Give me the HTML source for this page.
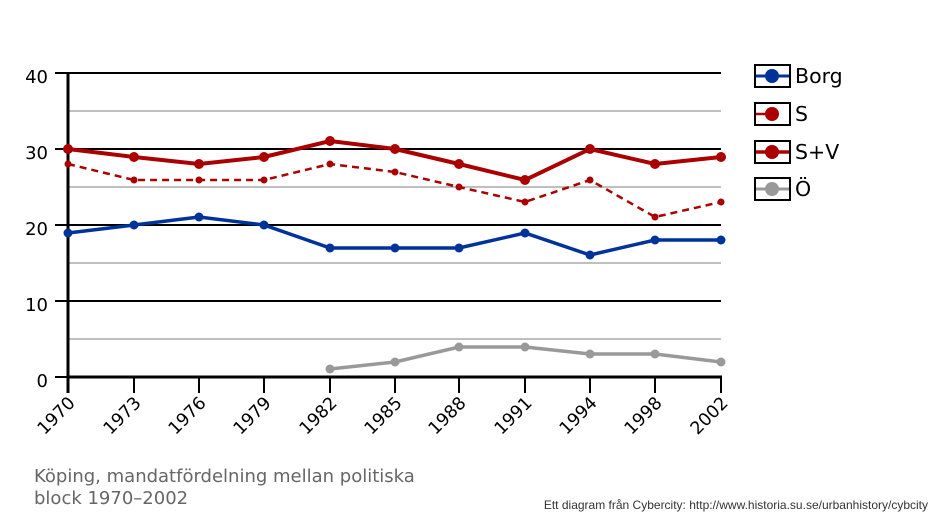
<!DOCTYPE html>
<html><head><meta charset="utf-8"><style>body{margin:0;background:#fff}svg{display:block}</style></head><body>
<svg width="938" height="521" xmlns="http://www.w3.org/2000/svg" font-family="DejaVu Sans, sans-serif">
<rect width="938" height="521" fill="#fff"/>
<g stroke="#999" stroke-width="1.2">
<line x1="68" x2="721" y1="339" y2="339"/><line x1="68" x2="721" y1="263" y2="263"/><line x1="68" x2="721" y1="187" y2="187"/><line x1="68" x2="721" y1="111" y2="111"/>
</g>
<g stroke="#000" stroke-width="2">
<line x1="55" x2="721" y1="301" y2="301"/><line x1="55" x2="721" y1="225" y2="225"/><line x1="55" x2="721" y1="149" y2="149"/><line x1="55" x2="721" y1="73" y2="73"/>
<line x1="55" x2="68" y1="377" y2="377"/>
</g>
<line x1="68" x2="722" y1="377" y2="377" stroke="#000" stroke-width="3"/>
<line x1="68" x2="68" y1="72" y2="393" stroke="#000" stroke-width="3"/>
<g stroke="#000" stroke-width="2">
<line x1="134" x2="134" y1="377" y2="393"/><line x1="199" x2="199" y1="377" y2="393"/><line x1="264" x2="264" y1="377" y2="393"/><line x1="330" x2="330" y1="377" y2="393"/><line x1="395" x2="395" y1="377" y2="393"/><line x1="459" x2="459" y1="377" y2="393"/><line x1="525" x2="525" y1="377" y2="393"/><line x1="590" x2="590" y1="377" y2="393"/><line x1="655" x2="655" y1="377" y2="393"/><line x1="721" x2="721" y1="377" y2="393"/>
</g>
<g font-size="18" text-anchor="end" fill="#000">
<text x="48" y="83">40</text><text x="48" y="159">30</text><text x="48" y="235">20</text><text x="48" y="311">10</text><text x="48" y="387">0</text>
</g>
<g font-size="17.5" text-anchor="end" fill="#000">
<text transform="translate(76,404) rotate(-45)">1970</text>
<text transform="translate(142,404) rotate(-45)">1973</text>
<text transform="translate(207,404) rotate(-45)">1976</text>
<text transform="translate(272,404) rotate(-45)">1979</text>
<text transform="translate(338,404) rotate(-45)">1982</text>
<text transform="translate(403,404) rotate(-45)">1985</text>
<text transform="translate(467,404) rotate(-45)">1988</text>
<text transform="translate(533,404) rotate(-45)">1991</text>
<text transform="translate(598,404) rotate(-45)">1994</text>
<text transform="translate(663,404) rotate(-45)">1998</text>
<text transform="translate(729,404) rotate(-45)">2002</text>
</g>
<!-- Ö -->
<polyline fill="none" stroke="#999" stroke-width="3.5" points="330,369 395,362 459,347 525,347 590,354 655,354 721,362"/>
<g fill="#999"><circle cx="330" cy="369" r="4.5"/><circle cx="395" cy="362" r="4.5"/><circle cx="459" cy="347" r="4.5"/><circle cx="525" cy="347" r="4.5"/><circle cx="590" cy="354" r="4.5"/><circle cx="655" cy="354" r="4.5"/><circle cx="721" cy="362" r="4.5"/></g>
<!-- Borg -->
<polyline fill="none" stroke="#003399" stroke-width="3.5" points="68,233 134,225 199,217 264,225 330,248 395,248 459,248 525,233 590,255 655,240 721,240"/>
<g fill="#003399"><circle cx="68" cy="233" r="4.5"/><circle cx="134" cy="225" r="4.5"/><circle cx="199" cy="217" r="4.5"/><circle cx="264" cy="225" r="4.5"/><circle cx="330" cy="248" r="4.5"/><circle cx="395" cy="248" r="4.5"/><circle cx="459" cy="248" r="4.5"/><circle cx="525" cy="233" r="4.5"/><circle cx="590" cy="255" r="4.5"/><circle cx="655" cy="240" r="4.5"/><circle cx="721" cy="240" r="4.5"/></g>
<!-- S dashed -->
<polyline fill="none" stroke="#aa0000" stroke-width="2.5" stroke-dasharray="7,5" points="68,164 134,180 199,180 264,180 330,164 395,172 459,187 525,202 590,180 655,217 721,202"/>
<g fill="#aa0000"><circle cx="68" cy="164" r="3.5"/><circle cx="134" cy="180" r="3.5"/><circle cx="199" cy="180" r="3.5"/><circle cx="264" cy="180" r="3.5"/><circle cx="330" cy="164" r="3.5"/><circle cx="395" cy="172" r="3.5"/><circle cx="459" cy="187" r="3.5"/><circle cx="525" cy="202" r="3.5"/><circle cx="590" cy="180" r="3.5"/><circle cx="655" cy="217" r="3.5"/><circle cx="721" cy="202" r="3.5"/></g>
<!-- S+V -->
<polyline fill="none" stroke="#aa0000" stroke-width="4" points="68,149 134,157 199,164 264,157 330,141 395,149 459,164 525,180 590,149 655,164 721,157"/>
<g fill="#aa0000"><circle cx="68" cy="149" r="5"/><circle cx="134" cy="157" r="5"/><circle cx="199" cy="164" r="5"/><circle cx="264" cy="157" r="5"/><circle cx="330" cy="141" r="5"/><circle cx="395" cy="149" r="5"/><circle cx="459" cy="164" r="5"/><circle cx="525" cy="180" r="5"/><circle cx="590" cy="149" r="5"/><circle cx="655" cy="164" r="5"/><circle cx="721" cy="157" r="5"/></g>
<!-- legend -->
<g stroke="#000" stroke-width="2" fill="none">
<rect x="755" y="65" width="35" height="22"/><rect x="755" y="103" width="35" height="22"/><rect x="755" y="141" width="35" height="22"/><rect x="755" y="178" width="35" height="22"/>
</g>
<line x1="756" x2="789" y1="76" y2="76" stroke="#003399" stroke-width="3"/><circle cx="772" cy="76" r="7" fill="#003399"/>
<line x1="756" x2="765" y1="114" y2="114" stroke="#aa0000" stroke-width="2.5"/><circle cx="772" cy="114" r="7" fill="#aa0000"/>
<line x1="756" x2="789" y1="152" y2="152" stroke="#aa0000" stroke-width="3.5"/><circle cx="772" cy="152" r="7" fill="#aa0000"/>
<line x1="756" x2="789" y1="189" y2="189" stroke="#999" stroke-width="3"/><circle cx="772" cy="189" r="7" fill="#999"/>
<g font-size="20.5" fill="#000">
<text x="795" y="83">Borg</text><text x="795" y="121">S</text><text x="795" y="159">S+V</text><text x="795" y="196">Ö</text>
</g>
<g font-size="18" fill="#666">
<text x="34" y="482">Köping, mandatfördelning mellan politiska</text>
<text x="34" y="504">block 1970–2002</text>
</g>
<text x="928" y="509" font-size="12" fill="#333" text-anchor="end" font-family="Liberation Sans, sans-serif">Ett diagram från Cybercity: http://www.historia.su.se/urbanhistory/cybcity</text>
</svg>
</body></html>
